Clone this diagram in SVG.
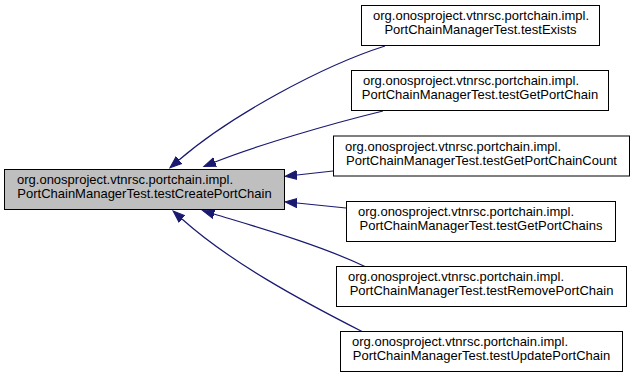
<svg xmlns="http://www.w3.org/2000/svg" width="635" height="377" viewBox="0 0 635 377">
  <style>
    .node rect { stroke: #000000; stroke-width: 1; }
    .main rect { fill: #bfbfbf; }
    .leaf rect { fill: #ffffff; }
    text { font-family: "Liberation Sans", Arial, Helvetica, sans-serif; font-size: 13px; fill: #000000; }
    .l1 { text-anchor: start; }
    .l2 { text-anchor: middle; }
    .edge { fill: none; stroke: #191970; stroke-width: 1.2; marker-end: url(#arrow); }
  </style>
  <defs>
    <marker id="arrow" markerUnits="userSpaceOnUse" markerWidth="14" markerHeight="12" refX="0" refY="5" orient="auto" viewBox="0 -1 14 12">
      <path d="M0,0.5 L12,5 L0,9.5 Z" fill="#191970" stroke="#191970" stroke-width="1"/>
    </marker>
  </defs>

  <rect x="0" y="0" width="635" height="377" fill="#ffffff"/>

  <!-- callers point back to the function under test -->
  <g id="connectors">
    <path class="edge" d="M385,46 C322,66 230,116 179,160"/>
    <path class="edge" d="M383,111 C330,124 258,145 215,162"/>
    <path class="edge" d="M333,171 L297,175"/>
    <path class="edge" d="M346,208 L297,203"/>
    <path class="edge" d="M366,267 C320,245 260,228 214,214"/>
    <path class="edge" d="M363,332 C300,300 230,262 182,219"/>
  </g>

  <g id="testCreatePortChain" class="node main">
    <rect x="4.5" y="169.5" width="280" height="40"/>
    <text class="l1" x="17" y="184">org.onosproject.vtnrsc.portchain.impl.</text>
    <text class="l2" x="144.5" y="198">PortChainManagerTest.testCreatePortChain</text>
  </g>

  <g id="testExists" class="node leaf">
    <rect x="361.5" y="5.5" width="238" height="40"/>
    <text class="l1" x="373" y="20">org.onosproject.vtnrsc.portchain.impl.</text>
    <text class="l2" x="480.5" y="34">PortChainManagerTest.testExists</text>
  </g>

  <g id="testGetPortChain" class="node leaf">
    <rect x="351.5" y="70.5" width="257" height="40"/>
    <text class="l1" x="363" y="85">org.onosproject.vtnrsc.portchain.impl.</text>
    <text class="l2" x="480" y="99">PortChainManagerTest.testGetPortChain</text>
  </g>

  <g id="testGetPortChainCount" class="node leaf">
    <rect x="333.5" y="136" width="296" height="40"/>
    <text class="l1" x="345" y="150.5">org.onosproject.vtnrsc.portchain.impl.</text>
    <text class="l2" x="481.5" y="164.5">PortChainManagerTest.testGetPortChainCount</text>
  </g>

  <g id="testGetPortChains" class="node leaf">
    <rect x="346.5" y="201.5" width="269" height="40"/>
    <text class="l1" x="358" y="216">org.onosproject.vtnrsc.portchain.impl.</text>
    <text class="l2" x="481" y="230">PortChainManagerTest.testGetPortChains</text>
  </g>

  <g id="testRemovePortChain" class="node leaf">
    <rect x="336.5" y="266.5" width="290" height="40"/>
    <text class="l1" x="348" y="281">org.onosproject.vtnrsc.portchain.impl.</text>
    <text class="l2" x="481.5" y="295">PortChainManagerTest.testRemovePortChain</text>
  </g>

  <g id="testUpdatePortChain" class="node leaf">
    <rect x="340.5" y="331.5" width="282" height="40"/>
    <text class="l1" x="352" y="346">org.onosproject.vtnrsc.portchain.impl.</text>
    <text class="l2" x="481.5" y="360">PortChainManagerTest.testUpdatePortChain</text>
  </g>
</svg>
